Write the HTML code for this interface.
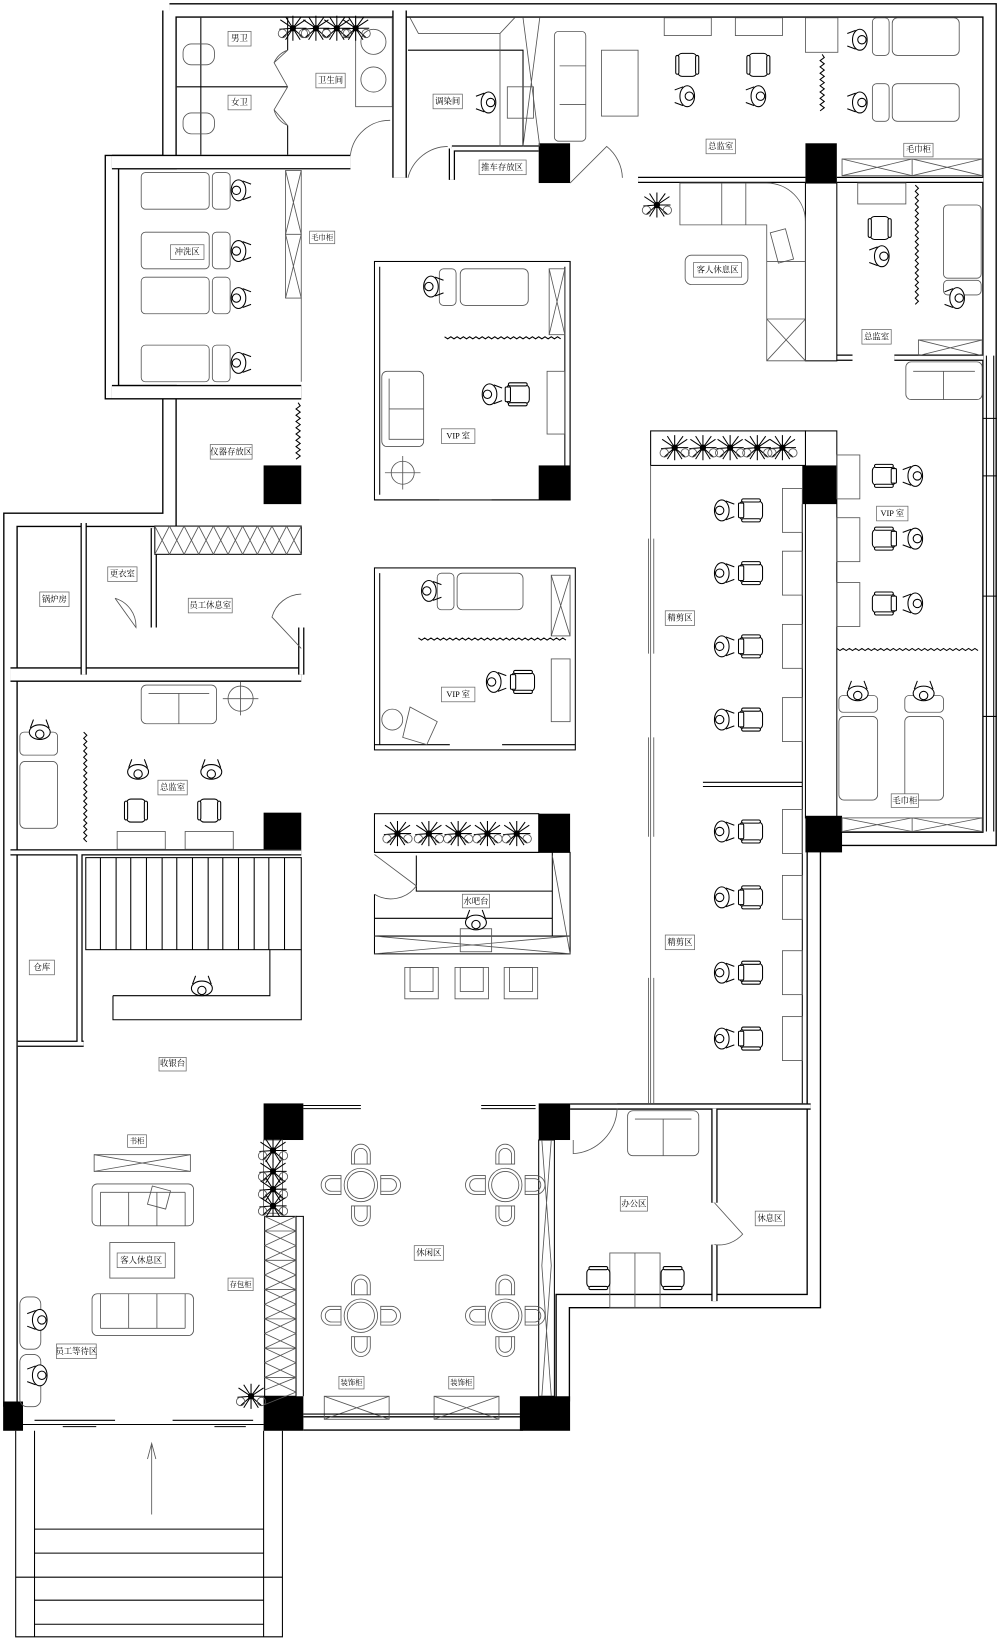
<!DOCTYPE html>
<html><head><meta charset="utf-8">
<style>
html,body{margin:0;padding:0;background:#fff}
svg{display:block}
text{font-family:"Liberation Serif","Noto Serif CJK SC","Noto Sans CJK SC",serif;font-size:8px;text-anchor:middle;dominant-baseline:central;fill:#000}
.w{fill:none;stroke:#000;stroke-width:14;stroke-linejoin:miter}
.wi{fill:none;stroke:#fff;stroke-width:11.4;stroke-linejoin:miter}
.t{fill:none;stroke:#000;stroke-width:6}
.ti{fill:none;stroke:#fff;stroke-width:3.6}
.l{fill:none;stroke:#000;stroke-width:1}
.g{fill:none;stroke:#555;stroke-width:.8}
.f{fill:#fff;stroke:#000;stroke-width:1}
.k{fill:#000}
.lb{fill:#fff;stroke:#666;stroke-width:.7}
</style></head><body>
<svg width="1000" height="1641" viewBox="0 0 956 1569" preserveAspectRatio="none" xmlns="http://www.w3.org/2000/svg">
<defs>
<g id="p"><ellipse cx="0" cy="0" rx="7" ry="10" class="f"/><circle cx="2" cy="0" r="4" class="f"/><path d="M-4,-9 L-12,-6 M-4,9 L-12,6" class="l"/></g>
<g id="sc"><rect x="-9" y="-11" width="18" height="22" rx="4" class="f"/><rect x="-11" y="-9" width="3" height="18" rx="1.5" class="f"/><rect x="8" y="-9" width="3" height="18" rx="1.5" class="f"/></g>
<g id="scv"><rect x="-11" y="-9" width="22" height="18" rx="4" class="f"/><rect x="-9" y="-11" width="18" height="3" rx="1.5" class="f"/><rect x="-9" y="8" width="18" height="3" rx="1.5" class="f"/><rect x="-12" y="-7" width="5" height="14" rx="1" class="f"/></g>
<g id="pl"><path d="M0,0 L-12,-8 M0,0 L12,-8 M0,0 L-10,9 M0,0 L10,9 M0,0 L0,-12 M0,0 L0,12 M0,0 L-13,1 M0,0 L13,0 M0,0 L-7,-11 M0,0 L7,11 M0,0 L8,-11 M0,0 L-7,11" stroke="#000" stroke-width="1"/><circle r="3" class="k"/><circle cx="-10" cy="5" r="4" class="g"/><circle cx="10" cy="5" r="4" class="g"/></g>
<g id="dc"><path d="M-9,8 V-2 A9,9 0 0 1 9,-2 V8 Z" class="g"/><path d="M-6,8 V-1 A6,6 0 0 1 6,-1 V8" class="g"/></g>
<g id="bed"><rect x="0" y="0" width="16" height="36" rx="4" class="g"/><rect x="19" y="0" width="64" height="36" rx="5" class="g"/></g>
</defs>

<!-- outer walls -->
<path class="w" d="M162,10 H946 V802 H778 V1244 H538 V1340 M290,1361 H500 M10,1345 V497 H162 V375 H107 V155 H162 V10"/>
<path class="wi" d="M162,10 H946 V802 H778 V1244 H538 V1340 M290,1361 H500 M10,1345 V497 H162 V375 H107 V155 H162 V10"/>
<!-- interior thick walls -->
<path class="w" d="M107,155 H335 M382,10 V170 M107,375 H288 M10,645 H288"/>
<path class="wi" d="M107,155 H335 M382,10 V170 M107,375 H288 M10,645 H288"/>
<path class="t" d="M610,172 H770 M800,172 H940 M855,342 H940 M800,342 H815 M10,815 H288 M76,815 V998 M80,500 V645 M147,505 V600 M288,600 V645 M432,142 V172 M432,142 H515 M545,1058 H775 M683,1060 V1150 M683,1190 V1244 M17,998 H80"/>
<path class="ti" d="M610,172 H770 M800,172 H940 M855,342 H940 M800,342 H815 M10,815 H288 M76,815 V998 M80,500 V645 M147,505 V600 M288,600 V645 M432,142 V172 M432,142 H515 M545,1058 H775 M683,1060 V1150 M683,1190 V1244 M17,998 H80"/>
<rect x="770" y="175" width="30" height="170" class="f" stroke-width="1.5"/>
<rect x="770" y="412" width="30" height="370" class="f" stroke-width="1.5"/>
<rect x="515" y="1090" width="15" height="245" class="f"/>
<path d="M518,1090 L527,1210 L518,1335 M527,1090 L518,1210 L527,1335" class="g"/>
<!-- window right -->
<path class="l" d="M943,340 V795 M950,340 V795 M940,400 H953 M940,455 H953 M940,570 H953 M940,685 H953"/>

<!-- pillars -->
<g class="k">
<rect x="515" y="137" width="30" height="38"/><rect x="770" y="137" width="30" height="38"/>
<rect x="252" y="445" width="36" height="37"/><rect x="252" y="777" width="36" height="35"/>
<rect x="515" y="445" width="30" height="33"/><rect x="515" y="778" width="30" height="37"/>
<rect x="767" y="445" width="33" height="37"/><rect x="770" y="780" width="35" height="35"/>
<rect x="252" y="1055" width="38" height="35"/><rect x="515" y="1055" width="30" height="35"/>
<rect x="252" y="1335" width="38" height="33"/><rect x="497" y="1335" width="48" height="33"/>
<rect x="3" y="1340" width="19" height="28"/>
</g>

<!-- toilets -->
<path class="l" d="M192,17 V148 M169,83 H275 M275,17 V48 M275,120 V148"/>
<path class="g" d="M275,48 L262,60 L275,83 L262,105 L275,120 M275,48 A22,22 0 0 0 262,60 M275,120 A22,22 0 0 1 262,105"/>
<rect x="175" y="42" width="30" height="20" rx="8" class="g"/><rect x="175" y="108" width="30" height="20" rx="8" class="g"/>
<rect x="340" y="17" width="35" height="85" class="g"/>
<circle cx="357" cy="40" r="12" class="g"/><circle cx="357" cy="76" r="12" class="g"/>
<use href="#pl" x="280" y="27"/><use href="#pl" x="302" y="27"/><use href="#pl" x="322" y="27"/><use href="#pl" x="340" y="27"/>
<path class="g" d="M335,148 A38,38 0 0 1 373,115 M390,170 A40,40 0 0 1 428,140"/>
<!-- 调染间 -->
<path class="l" d="M390,48 H500 V140"/>
<path class="g" d="M392,17 L400,32 H478 L492,17 M478,32 V140 M500,17 L516,140 M516,17 L500,140"/>
<rect x="485" y="83" width="25" height="30" class="g"/>
<use href="#p" x="467" y="98" transform=""/>
<path class="g" d="M545,175 L580,140 A40,40 0 0 1 595,170"/>

<!-- top right 总监室 -->
<rect x="530" y="30" width="30" height="105" rx="4" class="g"/><path class="g" d="M535,63 H560 M535,100 H560"/>
<rect x="575" y="48" width="35" height="63" class="g"/>
<rect x="635" y="17" width="45" height="17" class="g"/><rect x="703" y="17" width="45" height="17" class="g"/>
<use href="#sc" x="657" y="62"/><use href="#sc" x="725" y="62"/>
<use href="#p" x="657" y="92"/><use href="#p" x="725" y="92"/>
<rect x="770" y="17" width="31" height="33" class="g"/>
<path class="l" d="M786,52 l2,3 -4,3 4,3 -4,3 4,3 -4,3 4,3 -4,3 4,3 -4,3 4,3 -4,3 4,3 -4,3 4,3 -4,3 4,3 -4,3"/>
<g transform="translate(834,17)"><use href="#bed"/></g><g transform="translate(834,80)"><use href="#bed"/></g>
<use href="#p" x="822" y="38"/><use href="#p" x="822" y="98"/>
<rect x="805" y="152" width="134" height="16" class="g"/><path class="g" d="M805,152 L872,168 L939,152 M805,168 L872,152 L939,168 M872,152 V168"/>
<!-- guest lounge -->
<path class="g" d="M650,175 H733 A37,37 0 0 1 770,212 V345 H733 V215 H650 Z M733,305 H770 M733,305 L770,345 M770,305 L733,345 M690,175 V215 M713,175 V215 M733,250 H770"/>
<rect x="740" y="220" width="15" height="30" class="g" transform="rotate(-15 748 235)"/>
<use href="#pl" x="628" y="196"/>
<rect x="655" y="244" width="60" height="28" rx="6" class="g"/>
<!-- right room 2 -->
<rect x="820" y="175" width="46" height="20" class="g"/>
<use href="#sc" x="841" y="218"/><use href="#p" x="843" y="245"/>
<path class="l" d="M875,177 l3,3 -3,3 3,3 -3,3 3,3 -3,3 3,3 -3,3 3,3 -3,3 3,3 -3,3 3,3 -3,3 3,3 -3,3 3,3 -3,3 3,3 -3,3 3,3 -3,3 3,3 -3,3 3,3 -3,3 3,3 -3,3 3,3 -3,3 3,3 -3,3 3,3 -3,3 3,3 -3,3 3,3 -3,3"/>
<rect x="902" y="196" width="36" height="70" rx="4" class="g"/><rect x="902" y="268" width="36" height="14" rx="4" class="g"/>
<use href="#p" x="915" y="285"/>
<rect x="878" y="325" width="61" height="15" class="g"/><path class="g" d="M878,325 L939,340 M878,340 L939,325"/>
<rect x="866" y="346" width="73" height="36" rx="5" class="g"/><path class="g" d="M873,355 H932 M902,355 V382"/>

<!-- 冲洗区 -->
<g transform="translate(135,165)"><rect width="65" height="35" rx="4" class="g"/><rect x="68" width="17" height="35" rx="4" class="g"/></g>
<g transform="translate(135,222)"><rect width="65" height="35" rx="4" class="g"/><rect x="68" width="17" height="35" rx="4" class="g"/></g>
<g transform="translate(135,265)"><rect width="65" height="35" rx="4" class="g"/><rect x="68" width="17" height="35" rx="4" class="g"/></g>
<g transform="translate(135,330)"><rect width="65" height="35" rx="4" class="g"/><rect x="68" width="17" height="35" rx="4" class="g"/></g>
<use href="#p" x="228" y="182" transform="rotate(180 228 182)"/><use href="#p" x="228" y="240" transform="rotate(180 228 240)"/><use href="#p" x="228" y="285" transform="rotate(180 228 285)"/><use href="#p" x="228" y="347" transform="rotate(180 228 347)"/>
<rect x="273" y="163" width="15" height="122" class="g"/><path class="g" d="M273,163 L288,224 L273,285 M288,163 L273,224 L288,285 M273,224 H288 M288,285 V365"/>
<!-- 仪器存放区 -->
<path class="l" d="M285,385 l2,3 -4,3 4,3 -4,3 4,3 -4,3 4,3 -4,3 4,3 -4,3 4,3 -4,3 4,3 -4,3 4,3 -4,3 4,3 -4,3"/>
<!-- staff rooms -->
<rect x="148" y="503" width="140" height="27" class="f"/>
<path class="g" d="M148,503 l14,27 14,-27 14,27 14,-27 14,27 14,-27 14,27 14,-27 14,27 14,-27 M148,530 l14,-27 14,27 14,-27 14,27 14,-27 14,27 14,-27 14,27 14,-27 14,27"/>
<path class="g" d="M110,572 A28,28 0 0 1 130,600 L110,572 M288,568 A30,30 0 0 0 260,590 L288,620"/>
<!-- left 总监室 -->
<rect x="135" y="655" width="72" height="37" rx="5" class="g"/><path class="g" d="M142,663 H200 M171,663 V692"/>
<circle cx="230" cy="668" r="12" class="g"/><path class="g" d="M213,668 H247 M230,652 V684"/>
<path class="l" d="M80,700 l3,3 -3,3 3,3 -3,3 3,3 -3,3 3,3 -3,3 3,3 -3,3 3,3 -3,3 3,3 -3,3 3,3 -3,3 3,3 -3,3 3,3 -3,3 3,3 -3,3 3,3 -3,3 3,3 -3,3 3,3 -3,3 3,3 -3,3 3,3 -3,3 3,3 -3,3 3,3"/>
<rect x="19" y="700" width="36" height="22" rx="4" class="g"/><rect x="19" y="728" width="36" height="64" rx="5" class="g"/>
<use href="#p" x="38" y="700" transform="rotate(90 38 700)"/>
<use href="#p" x="132" y="738" transform="rotate(90 132 738)"/><use href="#p" x="202" y="738" transform="rotate(90 202 738)"/>
<use href="#sc" x="130" y="775"/><use href="#sc" x="200" y="775"/>
<rect x="112" y="795" width="46" height="17" class="g"/><rect x="177" y="795" width="46" height="17" class="g"/>
<!-- stairs -->
<rect x="82" y="820" width="206" height="88" class="f"/>
<path class="l" d="M96,820 V908 M111,820 V908 M125,820 V908 M140,820 V908 M155,820 V908 M169,820 V908 M184,820 V908 M199,820 V908 M213,820 V908 M228,820 V908 M243,820 V908 M257,820 V908 M272,820 V908"/>
<path class="l" d="M108,952 H258 V908 M108,952 V975 H288 V908"/>
<use href="#p" x="193" y="945" transform="rotate(90 193 945)"/>

<!-- VIP room 1 -->
<path class="l" d="M358,250 H545 V478 H470 M420,478 H358 Z M363,255 V473 M540,255 V478"/>
<rect x="358" y="250" width="187" height="228" class="l" fill="none"/>
<rect x="420" y="257" width="16" height="35" rx="4" class="g"/><rect x="440" y="257" width="65" height="35" rx="5" class="g"/>
<use href="#p" x="412" y="274" transform="rotate(180 412 274)"/>
<rect x="525" y="257" width="15" height="63" class="g"/><path class="g" d="M525,257 L540,320 M540,257 L525,320"/>
<path class="l" d="M425,322 l3,2 3,-2 3,2 3,-2 3,2 3,-2 3,2 3,-2 3,2 3,-2 3,2 3,-2 3,2 3,-2 3,2 3,-2 3,2 3,-2 3,2 3,-2 3,2 3,-2 3,2 3,-2 3,2 3,-2 3,2 3,-2 3,2 3,-2 3,2 3,-2 3,2 3,-2 3,2 3,-2 3,2"/>
<rect x="365" y="355" width="40" height="72" rx="5" class="g"/><path class="g" d="M372,362 V420 H405 M372,391 H405"/>
<use href="#scv" x="495" y="377"/><use href="#p" x="468" y="377" transform="rotate(180 468 377)"/>
<rect x="523" y="355" width="17" height="60" class="g"/>
<circle cx="385" cy="452" r="11" class="g"/><path class="g" d="M368,452 H402 M385,436 V468"/>
<!-- VIP room 2 -->
<rect x="358" y="543" width="192" height="174" class="l"/><path class="l" d="M363,548 V712 M358,712 H430 M480,712 H550"/>
<rect x="418" y="548" width="16" height="35" rx="4" class="g"/><rect x="437" y="548" width="63" height="35" rx="5" class="g"/>
<use href="#p" x="410" y="565" transform="rotate(180 410 565)"/>
<rect x="527" y="550" width="18" height="58" class="g"/><path class="g" d="M527,550 L545,608 M545,550 L527,608"/>
<path class="l" d="M400,610 l3,2 3,-2 3,2 3,-2 3,2 3,-2 3,2 3,-2 3,2 3,-2 3,2 3,-2 3,2 3,-2 3,2 3,-2 3,2 3,-2 3,2 3,-2 3,2 3,-2 3,2 3,-2 3,2 3,-2 3,2 3,-2 3,2 3,-2 3,2 3,-2 3,2 3,-2 3,2 3,-2 3,2 3,-2 3,2 3,-2 3,2 3,-2 3,2 3,-2 3,2 3,-2 3,2"/>
<use href="#scv" x="500" y="652"/><use href="#p" x="472" y="652" transform="rotate(180 472 652)"/>
<rect x="527" y="630" width="18" height="60" class="g"/>
<path class="g" d="M392,676 L418,690 L408,712 L385,705 Z"/>
<circle cx="375" cy="688" r="10" class="g"/>
<!-- water bar -->
<rect x="358" y="778" width="157" height="37" class="f"/>
<use href="#pl" x="380" y="797"/><use href="#pl" x="410" y="797"/><use href="#pl" x="438" y="797"/><use href="#pl" x="466" y="797"/><use href="#pl" x="494" y="797"/>
<path class="l" d="M358,815 H545 V912 H358 V855 M358,912 V895 H545 M398,818 V852 H528 V815 M358,878 H528 V895 M528,818 V895"/>
<path class="g" d="M358,817 L398,847 A30,30 0 0 1 358,855 M358,895 L545,912 M358,912 L545,895 M528,818 L545,912"/>
<rect x="440" y="888" width="30" height="22" class="g"/><use href="#p" x="455" y="882" transform="rotate(90 455 882)"/>
<rect x="387" y="925" width="32" height="30" class="g"/><rect x="392" y="925" width="22" height="23" class="g"/>
<rect x="435" y="925" width="32" height="30" class="g"/><rect x="440" y="925" width="22" height="23" class="g"/>
<rect x="482" y="925" width="32" height="30" class="g"/><rect x="487" y="925" width="22" height="23" class="g"/>

<!-- 精剪区 -->
<rect x="622" y="412" width="148" height="33" class="f"/>
<use href="#pl" x="645" y="428"/><use href="#pl" x="672" y="428"/><use href="#pl" x="698" y="428"/><use href="#pl" x="724" y="428"/><use href="#pl" x="748" y="428"/>
<path class="g" d="M622,445 V1055 M625,515 V625 M620,515 V625 M625,705 V800 M620,705 V800 M625,935 V1055 M620,935 V1055 M590,1055 H770"/>
<path class="l" d="M672,748 H767 M672,752 H767 M767,482 V1055"/>
<g id="row">
<use href="#scv" x="718" y="488"/><use href="#p" x="690" y="488" transform="rotate(180 690 488)"/><rect x="748" y="467" width="19" height="42" class="g"/>
</g>
<use href="#row" y="60"/><use href="#row" y="130"/><use href="#row" y="200"/><use href="#row" y="307"/><use href="#row" y="370"/><use href="#row" y="442"/><use href="#row" y="505"/>
<!-- right VIP -->
<g id="rv"><use href="#scv" x="845" y="455" transform="rotate(180 845 455)"/><use href="#p" x="875" y="455"/><rect x="800" y="435" width="22" height="42" class="g"/></g>
<use href="#rv" y="60"/><use href="#rv" y="122"/>
<path class="l" d="M800,620 l3,2 3,-2 3,2 3,-2 3,2 3,-2 3,2 3,-2 3,2 3,-2 3,2 3,-2 3,2 3,-2 3,2 3,-2 3,2 3,-2 3,2 3,-2 3,2 3,-2 3,2 3,-2 3,2 3,-2 3,2 3,-2 3,2 3,-2 3,2 3,-2 3,2 3,-2 3,2 3,-2 3,2 3,-2 3,2 3,-2 3,2 3,-2 3,2 3,-2 3,2"/>
<rect x="802" y="665" width="37" height="16" rx="4" class="g"/><rect x="802" y="685" width="37" height="80" rx="5" class="g"/>
<rect x="865" y="665" width="37" height="16" rx="4" class="g"/><rect x="865" y="685" width="37" height="80" rx="5" class="g"/>
<use href="#p" x="820" y="663" transform="rotate(90 820 663)"/><use href="#p" x="883" y="663" transform="rotate(90 883 663)"/>
<rect x="805" y="782" width="134" height="13" class="g"/><path class="g" d="M805,782 L872,795 L939,782 M805,795 L872,782 L939,795 M872,782 V795"/>

<!-- left lower -->
<rect x="90" y="1104" width="92" height="16" class="g"/><path class="g" d="M90,1104 L182,1120 M90,1120 L182,1104"/>
<rect x="88" y="1132" width="97" height="40" rx="5" class="g"/><path class="g" d="M96,1140 V1172 M177,1140 V1172 M96,1140 H177 M123,1140 V1172 M150,1140 V1172"/>
<rect x="143" y="1136" width="18" height="18" class="g" transform="rotate(15 152 1145)"/>
<rect x="88" y="1237" width="97" height="40" rx="5" class="g"/><path class="g" d="M96,1237 V1270 M177,1237 V1270 M96,1270 H177 M123,1237 V1270 M150,1237 V1270"/>
<rect x="105" y="1188" width="62" height="34" class="g"/>
<rect x="19" y="1240" width="20" height="50" rx="7" class="g"/><rect x="19" y="1295" width="20" height="50" rx="7" class="g"/>
<use href="#p" x="38" y="1262" transform="rotate(0 38 1262)"/><use href="#p" x="38" y="1315"/>
<rect x="252" y="1090" width="18" height="70" class="g"/>
<use href="#pl" x="261" y="1100"/><use href="#pl" x="261" y="1120"/><use href="#pl" x="261" y="1137"/><use href="#pl" x="261" y="1153"/>
<rect x="253" y="1163" width="30" height="172" class="f"/><path class="l" d="M283,1163 H290 V1335"/>
<path class="g" d="M253,1163 l30,14 -30,14 30,14 -30,14 30,14 -30,14 30,14 -30,14 30,14 -30,14 30,14 -30,12 M283,1163 l-30,14 30,14 -30,14 30,14 -30,14 30,14 -30,14 30,14 -30,14 30,14 -30,14 30,14 -30,12 M253,1177 H283 M253,1205 H283 M253,1233 H283 M253,1261 H283 M253,1289 H283 M253,1317 H283"/>
<use href="#pl" x="240" y="1335"/>
<!-- 休闲区 -->
<path class="l" d="M290,1057 H345 M290,1060 H345 M460,1057 H512 M460,1060 H512"/>
<g id="tb"><circle cx="345" cy="1133" r="16" class="g"/><circle cx="345" cy="1133" r="13" class="g"/>
<use href="#dc" x="345" y="1105" transform="rotate(0 345 1105)"/><use href="#dc" x="345" y="1161" transform="rotate(180 345 1161)"/><use href="#dc" x="318" y="1133" transform="rotate(-90 318 1133)"/><use href="#dc" x="372" y="1133" transform="rotate(90 372 1133)"/></g>
<use href="#tb" x="138"/><use href="#tb" y="125"/><use href="#tb" x="138" y="125"/>
<rect x="310" y="1335" width="62" height="22" class="g"/><path class="g" d="M310,1335 L372,1357 M310,1357 L372,1335"/>
<rect x="415" y="1335" width="62" height="22" class="g"/><path class="g" d="M415,1335 L477,1357 M415,1357 L477,1335"/>
<path class="l" d="M290,1352 H497"/>
<!-- office -->
<path class="g" d="M548,1090 V1103 A45,45 0 0 0 590,1060 M683,1150 L710,1180 A30,30 0 0 1 683,1190"/>
<rect x="600" y="1062" width="68" height="43" rx="5" class="g"/><path class="g" d="M607,1070 H661 M634,1070 V1105"/>
<rect x="583" y="1198" width="48" height="52" class="g"/><path class="g" d="M607,1198 V1250"/>
<use href="#sc" x="572" y="1222" transform="rotate(90 572 1222)"/><use href="#sc" x="643" y="1222" transform="rotate(-90 643 1222)"/>
<!-- entrance -->
<path class="l" d="M22,1362 H252 M33,1358 H110 M60,1364 H92 M165,1358 H242 M205,1364 H235"/>
<path class="l" stroke-width="1.5" d="M15,1368 V1565 H270 V1368 M33,1368 V1565 M252,1368 V1565 M33,1462 H252 M33,1485 H252 M15,1508 H270 M33,1530 H252 M33,1553 H252"/>
<path class="g" d="M145,1448 V1382 M141,1395 L145,1380 L149,1395"/>

<!-- labels -->
<g>
<rect x="218" y="30" width="22" height="14" class="lb"/><text x="229" y="37">男卫</text>
<rect x="218" y="91" width="22" height="14" class="lb"/><text x="229" y="98">女卫</text>
<rect x="302" y="70" width="28" height="14" class="lb"/><text x="316" y="77">卫生间</text>
<rect x="414" y="90" width="28" height="14" class="lb"/><text x="428" y="97">调染间</text>
<rect x="458" y="153" width="45" height="14" class="lb"/><text x="480" y="160">推车存放区</text>
<rect x="675" y="133" width="28" height="14" class="lb"/><text x="689" y="140">总监室</text>
<rect x="864" y="137" width="28" height="13" class="lb"/><text x="878" y="143">毛巾柜</text>
<rect x="163" y="234" width="32" height="14" class="lb"/><text x="179" y="241">冲洗区</text>
<rect x="296" y="221" width="24" height="12" class="lb"/><text x="308" y="227" style="font-size:7px">毛巾柜</text>
<rect x="663" y="251" width="46" height="14" class="lb"/><text x="686" y="258">客人休息区</text>
<rect x="824" y="315" width="28" height="14" class="lb"/><text x="838" y="322">总监室</text>
<rect x="201" y="425" width="40" height="14" class="lb"/><text x="221" y="432">仪器存放区</text>
<rect x="422" y="410" width="32" height="14" class="lb"/><text x="438" y="417">VIP 室</text>
<rect x="103" y="542" width="28" height="14" class="lb"/><text x="117" y="549">更衣室</text>
<rect x="38" y="566" width="28" height="14" class="lb"/><text x="52" y="573">锅炉房</text>
<rect x="180" y="572" width="42" height="14" class="lb"/><text x="201" y="579">员工休息室</text>
<rect x="636" y="584" width="28" height="14" class="lb"/><text x="650" y="591">精剪区</text>
<rect x="838" y="484" width="30" height="14" class="lb"/><text x="853" y="491">VIP 室</text>
<rect x="422" y="657" width="32" height="14" class="lb"/><text x="438" y="664">VIP 室</text>
<rect x="151" y="746" width="28" height="14" class="lb"/><text x="165" y="753">总监室</text>
<rect x="852" y="759" width="26" height="13" class="lb"/><text x="865" y="766">毛巾柜</text>
<rect x="442" y="855" width="26" height="13" class="lb"/><text x="455" y="862">水吧台</text>
<rect x="636" y="894" width="28" height="14" class="lb"/><text x="650" y="901">精剪区</text>
<rect x="28" y="918" width="24" height="14" class="lb"/><text x="40" y="925">仓库</text>
<rect x="152" y="1011" width="26" height="13" class="lb"/><text x="165" y="1017">收银台</text>
<rect x="122" y="1085" width="18" height="12" class="lb"/><text x="131" y="1091" style="font-size:7px">书柜</text>
<rect x="593" y="1144" width="26" height="14" class="lb"/><text x="606" y="1151">办公区</text>
<rect x="722" y="1158" width="28" height="14" class="lb"/><text x="736" y="1165">休息区</text>
<rect x="112" y="1198" width="46" height="14" class="lb"/><text x="135" y="1205">客人休息区</text>
<rect x="396" y="1191" width="28" height="14" class="lb"/><text x="410" y="1198">休闲区</text>
<rect x="218" y="1222" width="24" height="12" class="lb"/><text x="230" y="1228" style="font-size:7px">存包柜</text>
<rect x="54" y="1285" width="38" height="14" class="lb"/><text x="73" y="1292">员工等待区</text>
<rect x="324" y="1316" width="24" height="12" class="lb"/><text x="336" y="1322" style="font-size:7px">装饰柜</text>
<rect x="429" y="1316" width="24" height="12" class="lb"/><text x="441" y="1322" style="font-size:7px">装饰柜</text>
</g>
</svg>
</body></html>
